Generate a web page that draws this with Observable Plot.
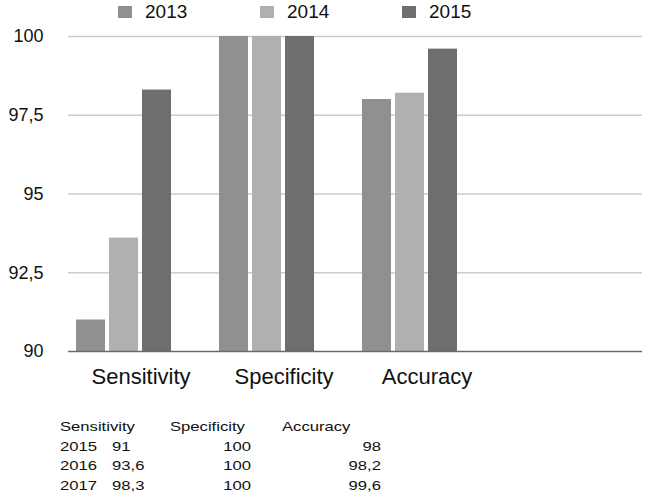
<!DOCTYPE html>
<html>
<head>
<meta charset="utf-8">
<script src="https://cdn.jsdelivr.net/npm/d3@7"></script>
<script src="https://cdn.jsdelivr.net/npm/@observablehq/plot@0.6"></script>
<style>
  body { margin: 0; background: #fff; font-family: "Liberation Sans", Arial, sans-serif; color: #111; }
  #wrap { position: relative; width: 646px; height: 498px; overflow: hidden; }
  #grid, #chart, #base { position: absolute; left: 0; top: 0; }
  .leg-sq { position: absolute; width: 14px; height: 12px; top: 6px; }
  .leg-tx { position: absolute; top: 0px; font-size: 19px; line-height: 24px; color: #111; }
  #table { position: absolute; left: 0; top: 0; width: 646px; height: 498px; transform: scaleX(1.28); transform-origin: 0 0; }
  .cell { position: absolute; font-size: 13px; line-height: 20px; white-space: nowrap; color: #111; }
  .r { text-align: right; width: 200px; }
</style>
</head>
<body>
<div id="wrap">
  <div id="grid"></div>
  <div id="chart"></div>
  <div id="base"></div>
  <div id="legend"></div>
  <div id="table"></div>
</div>
<script>
const categories = ["Sensitivity", "Specificity", "Accuracy"];
const years = ["2013", "2014", "2015"];
const values2013 = [91, 100, 98];
const values2014 = [93.6, 100, 98.2];
const values2015 = [98.3, 100, 99.6];
const yDomain = [90, 100];
const yTicks = [90, 92.5, 95, 97.5, 100];
const colors = ["#909090", "#b0b0b0", "#6e6e6e"];

// table below the chart (as printed in the figure)
const tableHeader = ["Sensitivity", "Specificity", "Accuracy"];
const tableYears = ["2015", "2016", "2017"];
const tableSensitivity = ["91", "93,6", "98,3"];
const tableSpecificity = ["100", "100", "100"];
const tableAccuracy = ["98", "98,2", "99,6"];

const series = [values2013, values2014, values2015];
const data = years.flatMap((yr, i) => categories.map((c, j) => ({category: c, year: yr, value: series[i][j]})));
const fxDomain = [...categories, " "];
const fmt = d => String(d).replace(".", ",");

const common = {
  width: 646,
  height: 400,
  marginTop: 36,
  marginBottom: 49,
  marginLeft: 68,
  marginRight: 4,
  style: {fontFamily: "Liberation Sans, Arial, sans-serif", background: "transparent", color: "#111"},
  y: {domain: yDomain, label: null}
};

// background layer: gridlines and y axis across the full plot width
const grid = Plot.plot({
  ...common,
  x: {axis: null},
  marks: [
    Plot.ruleY(yTicks.slice(1), {stroke: "#cccccc", strokeWidth: 1.5}),
    Plot.axisY({ticks: yTicks, tickSize: 0, tickPadding: 25, fontSize: 18, tickFormat: fmt, label: null})
  ]
});
document.getElementById("grid").appendChild(grid);

// middle layer: grouped bars
const chart = Plot.plot({
  ...common,
  fx: {domain: fxDomain, padding: 0, label: null},
  x: {domain: years, paddingInner: 0.118, paddingOuter: 0.669, align: 0.15, axis: null},
  color: {domain: years, range: colors},
  marks: [
    Plot.barY(data, {fx: "category", x: "year", y1: yDomain[0], y2: "value", fill: "year"}),
    Plot.axisY({ticks: [], tickSize: 0, label: null}),
    Plot.axisFx({anchor: "bottom", tickSize: 0, tickPadding: 17, fontSize: 22, label: null})
  ]
});
document.getElementById("chart").appendChild(chart);

// top layer: the baseline at the bottom of the bars
const base = Plot.plot({
  ...common,
  x: {axis: null},
  marks: [
    Plot.ruleY([yDomain[0]], {stroke: "#6a6a6a", strokeWidth: 1.5}),
    Plot.axisY({ticks: [], tickSize: 0, label: null})
  ]
});
document.getElementById("base").appendChild(base);

// legend
const legend = document.getElementById("legend");
years.forEach((yr, i) => {
  const left = 118 + i * 142;
  const sq = document.createElement("div");
  sq.className = "leg-sq";
  sq.style.left = left + "px";
  sq.style.background = colors[i];
  legend.appendChild(sq);
  const tx = document.createElement("div");
  tx.className = "leg-tx";
  tx.style.left = (left + 27) + "px";
  tx.textContent = yr;
  legend.appendChild(tx);
});

// table
const S = 1.28;
const table = document.getElementById("table");
function cell(text, x, top, right) {
  const d = document.createElement("div");
  d.className = "cell" + (right ? " r" : "");
  d.style.left = (right ? x / S - 200 : x / S) + "px";
  d.style.top = top + "px";
  d.textContent = text;
  table.appendChild(d);
}
const headLefts = [60, 170, 282];
tableHeader.forEach((h, i) => cell(h, headLefts[i], 416.5, false));
const rowTops = [437, 456, 475.5];
tableYears.forEach((yr, i) => {
  cell(yr, 60, rowTops[i], false);
  cell(tableSensitivity[i], 112, rowTops[i], false);
  cell(tableSpecificity[i], 251, rowTops[i], true);
  cell(tableAccuracy[i], 381, rowTops[i], true);
});
</script>
</body>
</html>
